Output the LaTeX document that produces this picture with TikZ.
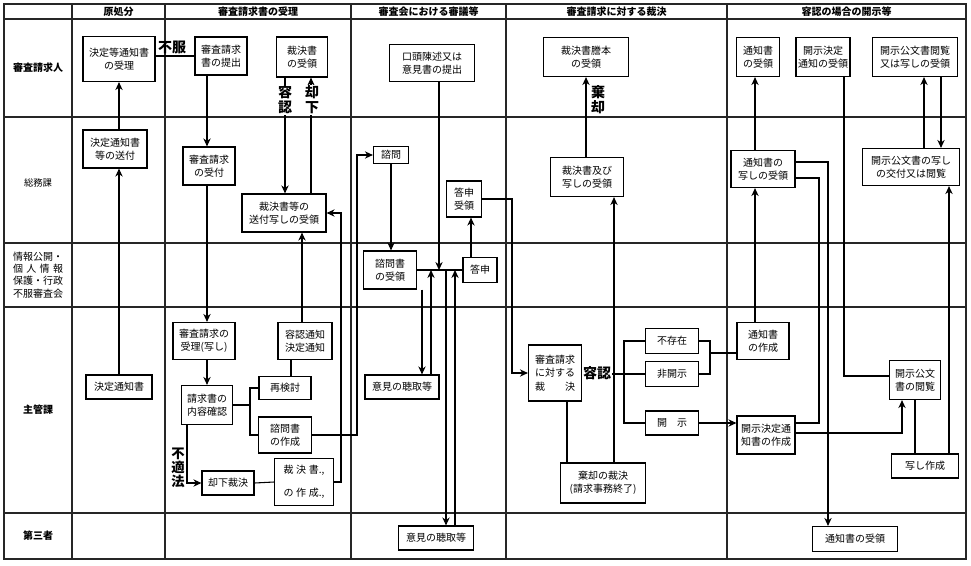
\documentclass[tikz,border=0pt]{standalone}
\usepackage{fontspec}
\setmainfont{Noto Sans CJK JP}
\usetikzlibrary{arrows.meta}
\begin{document}
\begin{tikzpicture}[x=0.75pt,y=-0.75pt]
\tikzset{
 gridline/.style={line width=1.1pt, draw=black!85},
 nbox/.style={draw, line width=0.9pt, fill=white, align=center, inner sep=0pt, font=\fontsize{7.5pt}{10pt}\selectfont},
 sz/.style 2 args={minimum width={#1*0.75pt}, minimum height={#2*0.75pt}},
 conn/.style={line width=0.8pt},
 arr/.style={conn, -{Stealth[length=6pt,width=5.5pt]}},
 hdr/.style={font=\fontsize{7.5pt}{9pt}\selectfont\bfseries},
 rowlbl/.style={font=\fontsize{7.5pt}{9pt}\selectfont\bfseries, align=center},
 biglbl/.style={font=\fontsize{10.5pt}{11.2pt}\selectfont\bfseries, align=center, inner sep=0.5pt},
}
\useasboundingbox (0,0) rectangle (971,565);
% ---- grid
\draw[gridline] (4,4) rectangle (966,559);
\foreach \y in {19,117,243,307,513} \draw[gridline] (4,\y) -- (966,\y);
\foreach \x in {72,165,351,506,727} \draw[gridline] (\x,4) -- (\x,559);
% ---- headers
\node[hdr] (h1) at (118.5,11.5) {原処分};
\node[hdr] (h2) at (258,11.5) {審査請求書の受理};
\node[hdr] (h3) at (428.5,11.5) {審査会における審議等};
\node[hdr] (h4) at (616.5,11.5) {審査請求に対する裁決};
\node[hdr] (h5) at (846.5,11.5) {容認の場合の開示等};
% ---- row labels
\node[rowlbl] (r1) at (38,68) {審査請求人};
\node[rowlbl, font=\fontsize{7pt}{9pt}\selectfont] (r2) at (38,183) {総務課};
\node[rowlbl, font=\fontsize{7.5pt}{9.2pt}\selectfont, text width=37.5pt, align=left, inner sep=0pt] (r3) at (38,275)
  {情報公開・\\個\hfill 人\hfill 情\hfill 報\\保護・行政\\不服審査会};
\node[rowlbl] (r4) at (38,410) {主管課};
\node[rowlbl] (r5) at (38,536) {第三者};
% ---- row 1 boxes
\node[nbox, sz={72}{45}] (A1) at (119,59) {決定等通知書\\の受理};
\node[nbox, sz={52}{38}] (A2) at (221,56) {審査請求\\書の提出};
\node[nbox, sz={51}{40}] (A3) at (302,57) {裁決書\\の受領};
\node[nbox, sz={85}{37}] (B1) at (432,63) {口頭陳述又は\\意見書の提出};
\node[nbox, sz={85}{39}] (C1) at (586,57) {裁決書謄本\\の受領};
\node[nbox, sz={43}{39}] (D1) at (758,57) {通知書\\の受領};
\node[nbox, sz={54}{39}] (D2) at (823,57) {開示決定\\通知の受領};
\node[nbox, sz={85}{39}] (D3) at (915,57) {開示公文書閲覧\\又は写しの受領};
% ---- row 2 boxes
\node[nbox, sz={64}{38}] (A4) at (115,149) {決定通知書\\等の送付};
\node[nbox, sz={52}{38}] (A5) at (209,166) {審査請求\\の受付};
\node[nbox, sz={84}{38}] (A6) at (284,213) {裁決書等の\\送付写しの受領};
\node[nbox, sz={35}{17}] (B2) at (391,155) {諮問};
\node[nbox, sz={35}{36}] (B3) at (464,199) {答申\\受領};
\node[nbox, sz={73}{39}] (C2) at (587,177) {裁決書及び\\写しの受領};
\node[nbox, sz={64}{37}] (D4) at (763,169) {通知書の\\写しの受領};
\node[nbox, sz={97}{37}] (D5) at (911,167) {開示公文書の写し\\の交付又は閲覧};
% ---- row 3 boxes
\node[nbox, sz={53}{38}] (B4) at (390,270) {諮問書\\の受領};
\node[nbox, sz={34}{25}] (B5) at (480,270) {答申};
% ---- row 4 boxes
\node[nbox, sz={66}{24}] (E1) at (119,387) {決定通知書};
\node[nbox, sz={62}{37}] (E2) at (204,341) {審査請求の\\受理(写し)};
\node[nbox, sz={54}{37}] (E3) at (305,341) {容認通知\\決定通知};
\node[nbox, sz={52}{23}] (E4) at (285,388) {再検討};
\node[nbox, sz={51}{39}] (E5) at (207,405) {請求書の\\内容確認};
\node[nbox, sz={53}{36}] (E6) at (285,435) {諮問書\\の作成};
\node[nbox, sz={52}{24}] (E7) at (228,483) {却下裁決};
\node[nbox, sz={59}{47}, line width=0.7pt, font=\fontsize{7.5pt}{10pt}\selectfont\mdseries] (E8) at (304,482)
  {裁\kern2pt 決\kern2pt 書.,\\[7pt]の\kern2pt 作\kern2pt 成.,};
\node[nbox, sz={74}{24}] (B6) at (402,387) {意見の聴取等};
\node[nbox, sz={53}{56}] (C3) at (555,373) {審査請求\\に対する\\裁\hspace{2em}決};
\node[nbox, sz={85}{40}] (C4) at (603,483) {棄却の裁決\\(請求事務終了)};
\node[nbox, sz={53}{25}] (C5) at (672,341) {不存在};
\node[nbox, sz={53}{25}] (C6) at (672,374) {非開示};
\node[nbox, sz={53}{24}] (C7) at (672,423) {開\hspace{1em}示};
\node[nbox, sz={52}{37}] (D6) at (763,341) {通知書\\の作成};
\node[nbox, sz={58}{38}] (D7) at (766,435) {開示決定通\\知書の作成};
\node[nbox, sz={51}{39}] (D8) at (915,380) {開示公文\\書の閲覧};
\node[nbox, sz={67}{24}] (D9) at (925,466) {写し作成};
% ---- row 5 boxes
\node[nbox, sz={75}{24}] (B7) at (436,538) {意見の聴取等};
\node[nbox, sz={85}{25}] (D10) at (855,539) {通知書の受領};
% ---- helper coordinates
\foreach \x in {187,207,250,285,291,302,311,341,357,422,431,439,446,455,471,512,567,586,614,624,710,755,819,828,844,902,915,924,941,949}
  \coordinate (x\x) at (\x,0);
\coordinate (J) at (0,270);
\coordinate (m1) at (710,353);
\coordinate (y162) at (0,162);
\coordinate (y178) at (0,178);
\coordinate (y423) at (0,423);
\coordinate (y433) at (0,433);
\coordinate (y376) at (0,376);
% ---- connectors: 原処分
\draw[arr] (E1.north) -- (E1.north |- A4.south);
\draw[arr] (E1.north |- A4.north) -- (E1.north |- A1.south);
\draw[conn] (A1.east |- A2.west) -- (A2.west);
\node[biglbl] (L1) at (172,47) {不服};
% ---- 審査請求書の受理
\draw[arr] (A2.south -| x207) -- (A5.north -| x207);
\draw[arr] (A5.south -| x207) -- (E2.north -| x207);
\draw[arr] (E2.south -| x207) -- (E5.north -| x207);
\draw[arr] (A3.south -| x285) -- (A6.north -| x285);
\draw[arr] (A6.north -| x311) -- (A3.south -| x311);
\node[biglbl, fill=white] (L2) at (285,100) {容\\認};
\node[biglbl, fill=white] (L3) at (312,100) {却\\下};
\draw[arr] (E3.north -| x302) -- (A6.south -| x302);
\draw[conn] (E4.north -| x291) -- (E3.south -| x291);
\draw[conn] (E5.east) -- (E5.east -| x250);
\draw[conn] (E4.west) -- (E4.west -| x250) -- (E6.west -| x250) -- (E6.west);
\draw[arr] (E6.east) -- (E6.east -| x357) -- (B2.west -| x357) -- (B2.west);
\draw[conn] (E7.east) -- (E8.west);
\draw[arr] (E8.east) -- (E8.east -| x341) -- (A6.east -| x341) -- (A6.east);
\draw[arr] (E5.south -| x187) -- (E7.west -| x187) -- (E7.west);
\node[biglbl, font=\fontsize{10pt}{10.5pt}\selectfont\bfseries] (L6) at (178,468) {不\\適\\法};
% ---- 審査会
\draw[arr] (B2.south) -- (B2.south |- B4.north);
\draw[conn] (B4.east) -- (B5.west);
\draw[arr] (B1.south -| x439) -- (J -| x439);
\draw[arr] (B4.south -| x422) -- (B6.north -| x422);
\draw[arr] (B6.north -| x431) -- (J -| x431);
\draw[arr] (J -| x446) -- (B7.north -| x446);
\draw[arr] (B7.north -| x455) -- (J -| x455);
\draw[arr] (B5.north -| x471) -- (B3.south -| x471);
\draw[arr] (B3.east) -- (B3.east -| x512) -- (C3.west -| x512) -- (C3.west);
% ---- 裁決
\draw[conn] (C3.south -| x567) -- (C4.north -| x567);
\draw[arr] (C4.north -| x614) -- (C2.south -| x614);
\draw[arr] (C2.north -| x586) -- (C1.south -| x586);
\node[biglbl] (L4) at (598,100) {棄\\却};
\node[biglbl, anchor=west] (L5) at (C3.east) {容認};
\draw[conn] (L5.east |- C6.west) -- (C6.west);
\draw[conn] (C5.west) -- (C5.west -| x624) -- (C7.west -| x624) -- (C7.west);
\draw[conn] (C5.east) -- (C5.east -| x710) -- (C6.east -| x710) -- (C6.east);
\draw[conn] (m1) -- (m1 -| D6.west);
\draw[arr] (C7.east) -- (C7.east -| D7.west);
% ---- 開示等
\draw[arr] (D6.north -| x755) -- (D4.south -| x755);
\draw[arr] (D4.north -| x755) -- (D1.south -| x755);
\draw[arr] (D4.east |- y162) -- (x828 |- y162) -- (x828 |- D10.north);
\draw[conn] (D7.east |- y423) -- (x819 |- y423) -- (x819 |- y178) -- (D4.east |- y178);
\draw[arr] (D7.east |- y433) -- (x902 |- y433) -- (x902 |- D8.south);
\draw[conn] (D2.south -| x844) -- (x844 |- y376) -- (D8.west |- y376);
\draw[conn] (D8.south -| x915) -- (D9.north -| x915);
\draw[arr] (D9.north -| x949) -- (D5.south -| x949);
\draw[arr] (D3.south -| x941) -- (D5.north -| x941);
\draw[arr] (D5.north -| x924) -- (D3.south -| x924);
\end{tikzpicture}
\end{document}
